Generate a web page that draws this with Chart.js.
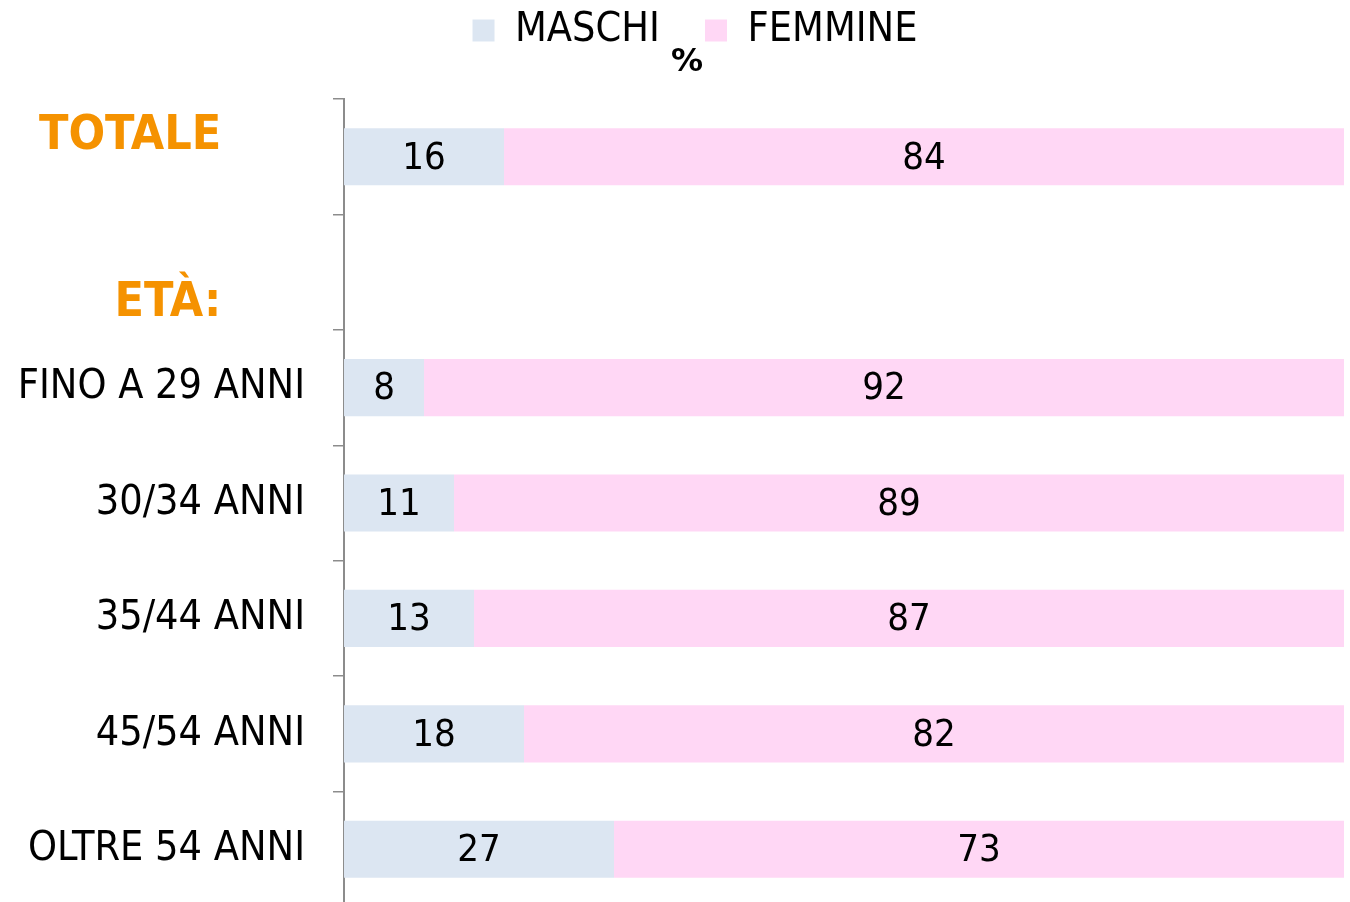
<!DOCTYPE html>
<html>
<head>
<meta charset="utf-8">
<script src="https://cdn.jsdelivr.net/npm/chart.js@4/dist/chart.umd.min.js"></script>
<style>
html,body{margin:0;padding:0;background:#fff;overflow:hidden;}
#wrap{width:1350px;height:910px;}
</style>
</head>
<body>
<div id="wrap"><canvas id="c" width="1350" height="910"></canvas></div>
<script>
const categories = ["TOTALE", "ETÀ:", "FINO A 29 ANNI", "30/34 ANNI", "35/44 ANNI", "45/54 ANNI", "OLTRE 54 ANNI"];
const seriesNames = ["MASCHI", "FEMMINE"];
const maschi = [16, null, 8, 11, 13, 18, 27];
const femmine = [84, null, 92, 89, 87, 82, 73];
const unitLabel = "%";

const FAM = "'DejaVu Sans Condensed', 'DejaVu Sans', sans-serif";
const ORANGE = "#F59200";

const valueLabels = {
  id: 'valueLabels',
  afterDatasetsDraw(chart) {
    const ctx = chart.ctx;
    ctx.save();
    ctx.font = "normal 38px " + FAM;
    ctx.fillStyle = "#000";
    ctx.textAlign = "center";
    ctx.textBaseline = "middle";
    chart.data.datasets.forEach((ds, di) => {
      const meta = chart.getDatasetMeta(di);
      meta.data.forEach((bar, i) => {
        const v = ds.data[i];
        if (v === null || v === undefined) return;
        const cx = (bar.x + bar.base) / 2;
        ctx.fillText(String(v), cx, bar.y + 2);
      });
    });
    ctx.restore();
  }
};

const shiftHeader = {
  id: 'shiftHeader',
  afterLayout(chart) {
    if (chart.legend) chart.legend.left = 46;
    chart.boxes.forEach(b => {
      if (b !== chart.legend && b.options && b.options.text === unitLabel) b.left = 30;
    });
  }
};

new Chart(document.getElementById('c'), {
  type: 'bar',
  data: {
    labels: categories,
    datasets: [
      { label: seriesNames[0], data: maschi, backgroundColor: "#DCE6F2", borderWidth: 0, categoryPercentage: 1, barPercentage: 0.495 },
      { label: seriesNames[1], data: femmine, backgroundColor: "#FFD7F5", borderWidth: 0, categoryPercentage: 1, barPercentage: 0.495 }
    ]
  },
  options: {
    indexAxis: 'y',
    responsive: false,
    animation: false,
    devicePixelRatio: 1,
    layout: { padding: { left: 0, right: 6, top: 0, bottom: 3 } },
    plugins: {
      legend: {
        display: true,
        position: 'top',
        labels: {
          boxWidth: 22,
          boxHeight: 22,
          padding: 10,
          color: "#000",
          font: { family: FAM, size: 41, weight: 'normal', lineHeight: 1 },
          generateLabels(chart) {
            const items = Chart.defaults.plugins.legend.labels.generateLabels(chart);
            items.forEach((it, i) => { if (i === 0) it.text = it.text + "   "; });
            return items;
          }
        }
      },
      subtitle: {
        display: true,
        text: unitLabel,
        position: 'top',
        weight: 500,
        color: "#000",
        font: { family: "'DejaVu Sans', sans-serif", size: 32, weight: 'bold', lineHeight: 1 },
        padding: { top: -14, bottom: 20 }
      },
      tooltip: { enabled: false }
    },
    scales: {
      x: {
        display: false,
        stacked: true,
        min: 0,
        max: 100
      },
      y: {
        stacked: true,
        afterFit(scale) { scale.width = 344; scale.paddingTop = 0; scale.paddingBottom = 0; },
        border: { display: true, color: "#8C8C8C", width: 2 },
        grid: { display: true, drawOnChartArea: false, drawTicks: true, tickLength: 11, color: "#8C8C8C", lineWidth: 1.5, offset: true },
        ticks: {
          padding: 28,
          autoSkip: false,
          callback: function(value, index) {
            const lbl = categories[index];
            if (index === 0) return [lbl + "     \u2009", ""];
            if (index === 1) return ["", lbl + "     \u2009"];
            return lbl;
          },
          color: (ctx) => ctx.index < 2 ? ORANGE : "#000",
          font: (ctx) => ctx.index === 0
            ? { family: FAM, size: 48, weight: 'bold', lineHeight: '40px' }
            : ctx.index === 1
              ? { family: FAM, size: 48, weight: 'bold', lineHeight: '63px' }
              : { family: FAM, size: 41, weight: 'normal' }
        }
      }
    }
  },
  plugins: [valueLabels, shiftHeader]
});
</script>
</body>
</html>
